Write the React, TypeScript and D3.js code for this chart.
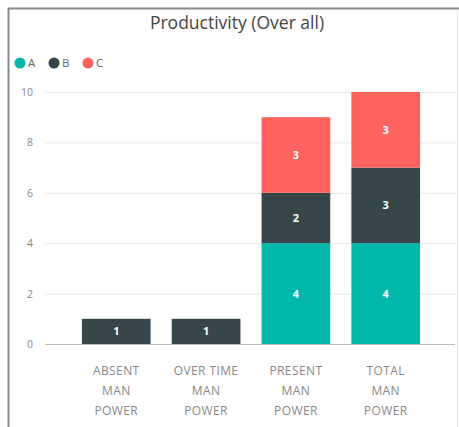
import React from "react";
import * as d3 from "d3";

const categories = ["ABSENT MAN POWER", "OVER TIME MAN POWER", "PRESENT MAN POWER", "TOTAL MAN POWER"];
const categoryLines = [["ABSENT", "MAN", "POWER"], ["OVER TIME", "MAN", "POWER"], ["PRESENT", "MAN", "POWER"], ["TOTAL", "MAN", "POWER"]];
const seriesNames = ["A", "B", "C"];
const seriesA = [0, 0, 4, 4];
const seriesB = [1, 1, 2, 3];
const seriesC = [0, 0, 3, 3];
const yTicks = [0, 2, 4, 6, 8, 10];
const colors = ["#01B8AA", "#374649", "#FD625E"];

const W = 459, H = 427;

export default function App() {
  const x = d3.scaleBand<string>().domain(categories).range([46, 456]).paddingInner(0.235).paddingOuter(0.4);
  const y = d3.scaleLinear().domain([0, 10]).range([344, 92]);
  const rows = categories.map((c, i) => ({ cat: c, A: seriesA[i], B: seriesB[i], C: seriesC[i] }));
  const stack = d3.stack<any>().keys(seriesNames)(rows);
  const font = "'Open Sans', 'DejaVu Sans', sans-serif";

  return (
    <svg width={W} height={H} style={{ position: "absolute", left: 0, top: 0, background: "#fff" }} fontFamily={font}>
      <rect x={0} y={0} width={W} height={H} fill="#fff" />
      <line x1={8} y1={8.5} x2={459} y2={8.5} stroke="#8a8a8a" strokeWidth={2} />
      <line x1={8.5} y1={8} x2={8.5} y2={427} stroke="#8a8a8a" strokeWidth={2} />
      <line x1={457.5} y1={9} x2={457.5} y2={427} stroke="#e6e6e6" strokeWidth={1} />
      <text x={237} y={29} textAnchor="middle" fontSize={17.5} fill="#444">Productivity (Over all)</text>
      {seriesNames.map((s, i) => {
        const cx = 20 + i * 34;
        return (
          <g key={s}>
            <circle cx={cx} cy={63} r={5.5} fill={colors[i]} />
            <text x={cx + 8} y={67} fontSize={11.5} fill="#666">{s}</text>
          </g>
        );
      })}
      {yTicks.map(t => (
        <g key={t}>
          <line x1={45} x2={455} y1={y(t) + 0.5} y2={y(t) + 0.5} stroke={t === 0 ? "#bdbdbd" : "#e8e8e8"} strokeWidth={1} />
          <text x={33} y={y(t) + 4} textAnchor="end" fontSize={10.5} fill="#888">{t}</text>
        </g>
      ))}
      {stack.map((layer, si) => (
        <g key={si}>
          {layer.map((d, i) => {
            const v = d[1] - d[0];
            if (v <= 0) return null;
            const bx = x(categories[i])!;
            const top = y(d[1]);
            const bottom = y(d[0]);
            return (
              <g key={i}>
                <rect x={bx} y={top} width={x.bandwidth()} height={bottom - top} fill={colors[si]} />
                <text x={bx + x.bandwidth() / 2} y={(top + bottom) / 2 + 4} textAnchor="middle" fontSize={11} fontWeight="bold" fill="#fff">{v}</text>
              </g>
            );
          })}
        </g>
      ))}
      {categories.map((c, i) => (
        <text key={c} x={x(c)! + x.bandwidth() / 2} textAnchor="middle" fontSize={12} letterSpacing={0.4} fill="#888">
          {categoryLines[i].map((l, j) => (
            <tspan key={j} x={x(c)! + x.bandwidth() / 2} y={375 + j * 20}>{l}</tspan>
          ))}
        </text>
      ))}
    </svg>
  );
}
